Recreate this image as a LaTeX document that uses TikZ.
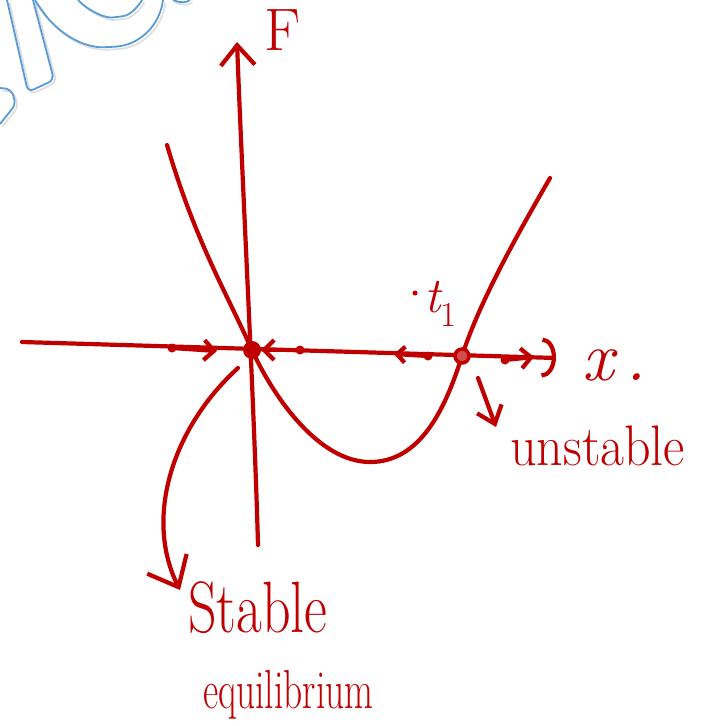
\documentclass[tikz,border=0pt]{standalone}
\usepackage{tikz}
\usetikzlibrary{arrows.meta,calc,positioning}
\definecolor{pen}{HTML}{C00000}
\definecolor{wmblue}{HTML}{5B9BD5}

\begin{document}
\begin{tikzpicture}[x=1pt,y=-1pt,
  stroke/.style={draw=pen,line width=4.2pt,line cap=round,line join=round},
  hand/.style={text=pen,inner sep=0pt,font=\fontsize{#1}{#1}\selectfont},
  dot/.style={circle,fill=pen,inner sep=0pt,minimum size=#1},
  wm/.style={line width=1.8pt,rounded corners=6pt}]
\useasboundingbox (0,0) rectangle (723,726);
% watermark fragment, shadow first
\foreach \s/\c in {2.5/black!12,0/wmblue}{
  \begin{scope}[shift={(\s,\s)},draw=\c]
  \draw[wm] (7,0) -- (28,92) -- (54,80) -- (33,0);
  \draw[wm] (0,88) -- (11,89) -- (16,104) -- (0,124);
  \draw[wm] (35,0) .. controls (55,35) and (85,48) .. (110,47) .. controls (140,45) and (160,25) .. (163,0);
  \draw[wm] (78,0) .. controls (90,12) and (105,18) .. (118,17) .. controls (130,15) and (138,7) .. (142,0);
  \draw[wm] (173,0) .. controls (180,3) and (186,3) .. (190,0);
  \end{scope}}
% axes
\draw[stroke,-{Arc Barb[length=14pt,width=40pt]}] (22,342) -- (556,358);
\draw[stroke,-{Straight Barb[length=20pt,width=34pt]}] (258,545) .. controls (254,400) and (243,200) .. (237,42);
\node[hand=60] (flab) at (283,30) {F};
\node[hand=70,anchor=base west] (xlab) at (582,380) {\itshape x\,.};
% parabola
\draw[stroke] (167,145) .. controls (195,240) and (225,290) .. (252,350)
  .. controls (275,400) and (320,462) .. (370,462)
  .. controls (420,462) and (445,410) .. (462,356)
  .. controls (480,300) and (520,230) .. (550,178);
% equilibria and flow on the line
\node[dot=18pt] (eqA) at (252,350) {};
\node[circle,draw=pen,fill=pen!70,line width=3.5pt,minimum size=14pt,inner sep=0pt] (eqB) at (462,356) {};
\node[dot=9pt] (p1) at (172,348) {};
\node[dot=9pt] (p2) at (300,350) {};
\node[dot=9pt] (p3) at (428,356) {};
\node[dot=9pt] (p4) at (505,360) {};
\coordinate (q1) at (217,351);
\coordinate (q3) at (394,354);
\coordinate (q4) at (534,357);
\draw[stroke,-{Straight Barb[length=10pt,width=20pt]}] (p1) -- (q1);
\draw[stroke,-{Straight Barb[length=10pt,width=20pt]}] (p2) -- (eqA);
\draw[stroke,-{Straight Barb[length=8pt,width=16pt]}] (p3) -- (q3);
\draw[stroke,-{Straight Barb[length=10pt,width=20pt]}] (p4) -- (q4);
\node[dot=5pt] (tdot) at (415,293) {};
\node[hand=50,anchor=base west] (tlab) at (424,312) {\itshape t\textsubscript{\upshape 1}};
% labels
\node[hand=56,anchor=base west] (stab) at (188,632) {\scalebox{1}[1.3]{Stable}};
\node[hand=44,anchor=base west] (equil) at (203,708) {\scalebox{0.85}[1.25]{equilibrium}};
\node[hand=52,anchor=base west] (unst) at (510,465) {\scalebox{1}[1.1]{unstable}};
\coordinate (stip) at (180,590);
\coordinate (utip) at (496,427);
\draw[stroke,-{Straight Barb[length=26pt,width=44pt]}] ([shift={(-14,18)}]eqA.center) .. controls (170,430) and (145,520) .. (stip);
\draw[stroke,-{Straight Barb[length=16pt,width=26pt]}] ([shift={(16,22)}]eqB.center) -- (utip);
\end{tikzpicture}
\end{document}
